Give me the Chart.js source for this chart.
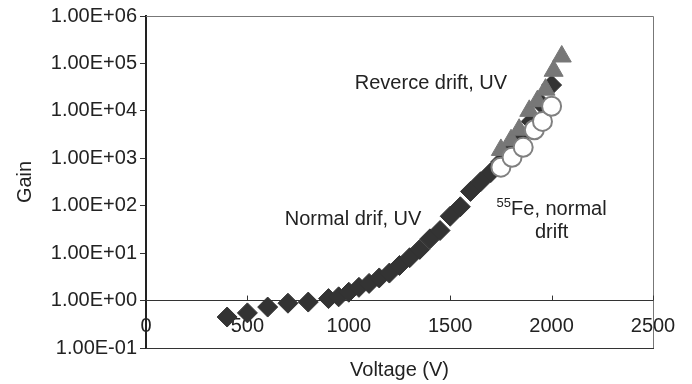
<!DOCTYPE html>
<html>
<head>
<meta charset="utf-8">
<script src="https://cdn.jsdelivr.net/npm/chart.js@4.4.1/dist/chart.umd.min.js"></script>
<style>
  html, body { margin: 0; padding: 0; background: #fff; }
  #wrap { width: 692px; height: 384px; }
</style>
</head>
<body>
<div id="wrap"><canvas id="gainChart" width="692" height="384"></canvas></div>
<script>
// --- Daten ---
const normalVolt = [400, 500, 600, 700, 800, 900, 950, 1000, 1050, 1100, 1150, 1200, 1250, 1300, 1350, 1400, 1450, 1500, 1550, 1600, 1650, 1700, 1750, 1800, 1850, 1900, 1950, 2000];
const normalGain = [0.45, 0.55, 0.73, 0.88, 0.93, 1.1, 1.2, 1.5, 1.9, 2.3, 3.0, 3.8, 5.5, 8, 12, 20, 30, 60, 95, 200, 320, 500, 850, 1600, 3000, 6000, 14000, 35000];

const reverseVolt = [1750, 1800, 1840, 1890, 1930, 1970, 2010, 2050];
const reverseGain = [1500, 2400, 4000, 10000, 16000, 28000, 70000, 140000];

const feVolt = [1750, 1805, 1860, 1915, 1955, 2000];
const feGain = [650, 1050, 1700, 4000, 6000, 12500];

const xTicks = [0, 500, 1000, 1500, 2000, 2500];
const yTicks = [0.1, 1, 10, 100, 1000, 10000, 100000, 1000000];
const yTickLabels = ["1.00E-01", "1.00E+00", "1.00E+01", "1.00E+02", "1.00E+03", "1.00E+04", "1.00E+05", "1.00E+06"];

// Beschriftungen im Diagramm (Anker in Datenkoordinaten)
const notes = [
  { text: "Reverce drift, UV", x: 1405, y: 37000 },
  { text: "Normal drif, UV", x: 1021, y: 52 },
  { sup: "55", text: "Fe, normal", x: 2000, y: 85 },
  { text: "drift", x: 2000, y: 27 },
];

const FONT = "'Liberation Sans', Arial, sans-serif";
const TEXT = "#222";

const toPts = (xs, ys) => xs.map((x, i) => ({ x, y: ys[i] }));

// Rahmen oben/rechts + Striche nach innen auf der Achse bei 1
const framePlugin = {
  id: "frame",
  beforeDatasetsDraw(chart) {
    const { ctx, chartArea: a, scales } = chart;
    ctx.save();
    ctx.strokeStyle = "#777";
    ctx.lineWidth = 1;
    ctx.beginPath();
    ctx.moveTo(a.left, a.top + 0.5);
    ctx.lineTo(a.right + 0.5, a.top + 0.5);
    ctx.lineTo(a.right + 0.5, a.bottom);
    ctx.stroke();

    const y1 = scales.y.getPixelForValue(1);
    ctx.strokeStyle = "#333";
    ctx.beginPath();
    xTicks.slice(1).forEach((v) => {
      const px = Math.round(scales.x.getPixelForValue(v)) + 0.5;
      ctx.moveTo(px, y1);
      ctx.lineTo(px, y1 - 5);
    });
    ctx.stroke();
    ctx.restore();
  },
  afterDatasetsDraw(chart) {
    const { ctx, scales } = chart;
    ctx.save();
    ctx.fillStyle = TEXT;
    ctx.textBaseline = "middle";
    notes.forEach((n) => {
      const px = scales.x.getPixelForValue(n.x);
      const py = scales.y.getPixelForValue(n.y);
      ctx.font = `20px ${FONT}`;
      const w = ctx.measureText(n.text).width;
      if (n.sup) {
        ctx.font = `13px ${FONT}`;
        const ws = ctx.measureText(n.sup).width;
        const left = px - (w + ws) / 2;
        ctx.textAlign = "left";
        ctx.fillText(n.sup, left, py - 6);
        ctx.font = `20px ${FONT}`;
        ctx.fillText(n.text, left + ws, py);
      } else {
        ctx.textAlign = "center";
        ctx.fillText(n.text, px, py);
      }
    });
    ctx.restore();
  },
};

new Chart(document.getElementById("gainChart"), {
  type: "scatter",
  data: {
    datasets: [
      {
        label: "55Fe, normal drift",
        data: toPts(feVolt, feGain),
        pointStyle: "circle",
        pointRadius: 9.5,
        backgroundColor: "#fff",
        borderColor: "#808080",
        borderWidth: 2,
        order: 1,
      },
      {
        label: "Reverce drift, UV",
        data: toPts(reverseVolt, reverseGain),
        pointStyle: "triangle",
        pointRadius: 11,
        backgroundColor: "#777",
        borderColor: "#777",
        borderWidth: 1,
        order: 2,
      },
      {
        label: "Normal drif, UV",
        data: toPts(normalVolt, normalGain),
        pointStyle: "rectRot",
        pointRadius: 10,
        backgroundColor: "#333",
        borderColor: "#333",
        borderWidth: 1,
        order: 3,
      },
    ],
  },
  options: {
    responsive: false,
    animation: false,
    devicePixelRatio: 1,
    layout: { padding: { top: 16, right: 39, left: 0, bottom: 0 } },
    plugins: { legend: { display: false }, tooltip: { enabled: false } },
    scales: {
      y: {
        type: "logarithmic",
        position: "left",
        min: 0.1,
        max: 1000000,
        afterBuildTicks: (s) => { s.ticks = yTicks.map((v) => ({ value: v })); },
        afterFit: (s) => { s.width = 146; },
        ticks: {
          autoSkip: false,
          padding: 3,
          color: TEXT,
          font: { family: FONT, size: 20 },
          callback: (v, i) => yTickLabels[i],
        },
        grid: { drawOnChartArea: false, tickLength: 6, color: "#333" },
        border: { color: "#222", width: 2 },
        title: {
          display: true,
          text: "Gain",
          color: TEXT,
          font: { family: FONT, size: 20 },
          padding: { top: 13, bottom: 0 },
        },
      },
      x: {
        type: "linear",
        position: { y: 1 },
        min: 0,
        max: 2500,
        afterBuildTicks: (s) => { s.ticks = xTicks.map((v) => ({ value: v })); },
        ticks: {
          autoSkip: false,
          maxRotation: 0,
          padding: 14,
          color: TEXT,
          font: { family: FONT, size: 20 },
          callback: (v) => String(v),
        },
        grid: { drawOnChartArea: false, drawTicks: false },
        border: { color: "#333", width: 1 },
      },
      x2: {
        type: "linear",
        axis: "x",
        position: "bottom",
        min: 0,
        max: 2500,
        afterFit: (s) => { s.height = 36; },
        ticks: { display: false },
        grid: { display: false, drawTicks: false },
        border: { display: true, color: "#333", width: 1 },
        title: {
          display: true,
          text: "Voltage (V)",
          color: TEXT,
          font: { family: FONT, size: 20 },
          padding: { top: 0, bottom: 2 },
        },
      },
    },
  },
  plugins: [framePlugin],
});
</script>
</body>
</html>
